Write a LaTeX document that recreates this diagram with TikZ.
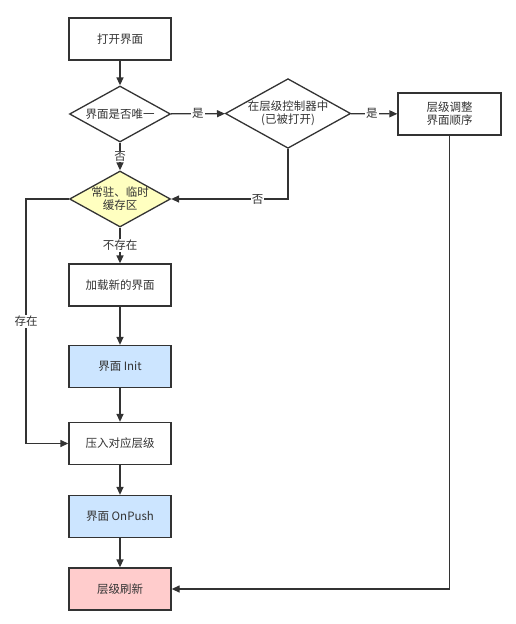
\documentclass[tikz,border=0pt]{standalone}
\usepackage{fontspec}
\setmainfont{Noto Sans CJK SC}
\usetikzlibrary{arrows.meta,shapes.geometric}
\definecolor{ln}{HTML}{333333}
\definecolor{tx}{HTML}{333333}
\definecolor{yel}{HTML}{FFFFC0}
\definecolor{blu}{HTML}{CCE5FF}
\definecolor{rd}{HTML}{FFCCCC}
\tikzset{
  box/.style={draw=ln,line width=1.3pt,minimum width=102pt,minimum height=42pt,inner sep=0pt,font=\fontsize{11.5}{13}\selectfont,text=tx,align=center},
  dia/.style={draw=ln,line width=1.3pt,diamond,aspect=1.8,inner sep=0pt,font=\fontsize{11.5}{13}\selectfont,text=tx,align=center},
  conn/.style={draw=ln,line width=1.3pt,-{Triangle[length=8pt,width=7pt]}},
  lbl/.style={fill=white,inner sep=1pt,font=\fontsize{11.5}{13}\selectfont,text=tx},
}
\begin{document}
\begin{tikzpicture}[x=1pt,y=-1pt]
\useasboundingbox (0,0) rectangle (516,624);
\node[box] (open) at (120,39) {打开界面};
\node[dia,minimum width=101pt,minimum height=56pt] (uniq) at (120,114) {界面是否唯一};
\node[dia,minimum width=122pt,minimum height=57pt] (ctrl) at (288,113.5) {在层级控制器中\\(已被打开)};
\node[box,minimum width=103pt] (adj) at (449.5,114) {层级调整\\界面顺序};
\node[dia,fill=yel,minimum width=101pt,minimum height=56pt] (cache) at (120,199) {常驻、临时\\缓存区};
\node[box] (load) at (120,285) {加载新的界面};
\node[box,fill=blu] (init) at (120,366.5) {界面 Init};
\node[box] (push) at (120,443.5) {压入对应层级};
\node[box,fill=blu] (onpush) at (120,516.5) {界面 OnPush};
\node[box,fill=rd] (refresh) at (120,589) {层级刷新};
\coordinate (c1) at (288,199);
\coordinate (c2) at (26,199);
\coordinate (c3) at (26,443.5);
\coordinate (c4) at (449.5,589);
\draw[conn] (open) -- (uniq);
\draw[conn] (uniq) -- node[lbl,pos=0.5]{是} (ctrl);
\draw[conn] (ctrl) -- node[lbl,pos=0.45]{是} (adj);
\draw[conn] (uniq) -- node[lbl,pos=0.5]{否} (cache);
\draw[conn] (ctrl.south) -- (c1) -- node[lbl,pos=0.26]{否} (cache.east);
\draw[conn] (cache) -- node[lbl,pos=0.5]{不存在} (load);
\draw[conn] (cache.west) -- (c2) -- node[lbl,pos=0.5]{存在} (c3) -- (push.west);
\draw[conn] (load) -- (init);
\draw[conn] (init) -- (push);
\draw[conn] (push) -- (onpush);
\draw[conn] (onpush) -- (refresh);
\draw[conn] (adj.south) -- (c4) -- (refresh.east);
\end{tikzpicture}
\end{document}
